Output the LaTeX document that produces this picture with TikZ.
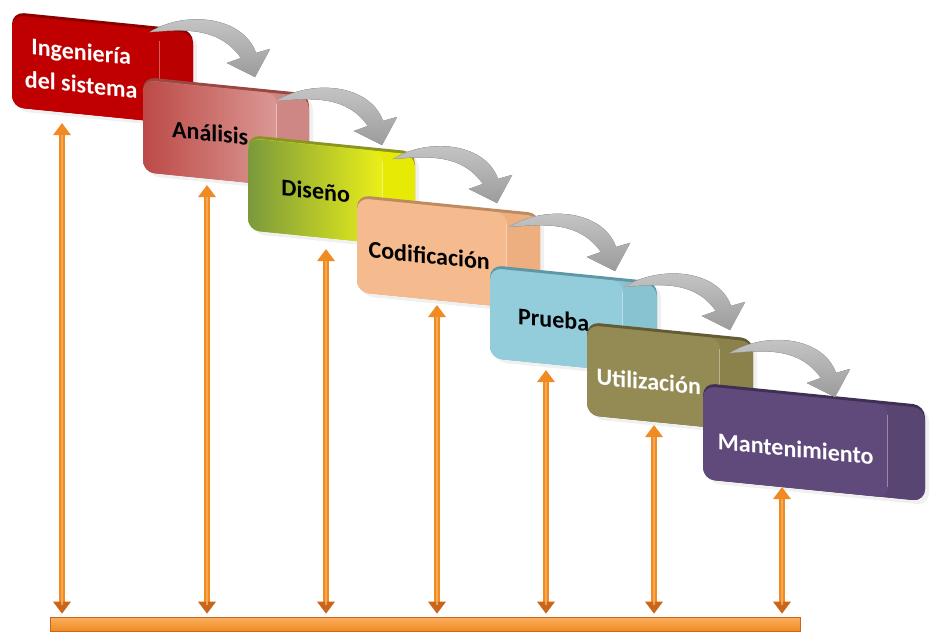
\documentclass[tikz,border=0pt]{standalone}
\usepackage{fontspec}
\setmainfont{Carlito}
\usetikzlibrary{arrows.meta,calc,shadows}

% face / side / top-edge colours of the seven stages
\definecolor{ingface}{HTML}{C00000}\definecolor{ingside}{HTML}{BA0000}\definecolor{ingdark}{HTML}{8A0000}
\definecolor{anaL}{HTML}{BC4A47}\definecolor{anaR}{HTML}{DB9894}\definecolor{anaside}{HTML}{CF8784}\definecolor{anadark}{HTML}{9A4744}
\definecolor{disL}{HTML}{7A993B}\definecolor{disR}{HTML}{EBF019}\definecolor{disside}{HTML}{E6EA05}\definecolor{disdark}{HTML}{8A9424}
\definecolor{codface}{HTML}{F5BB8E}\definecolor{codside}{HTML}{EDAF80}\definecolor{coddark}{HTML}{BE8A60}
\definecolor{prbface}{HTML}{93CDDC}\definecolor{prbside}{HTML}{88C3D2}\definecolor{prbdark}{HTML}{5F96A3}
\definecolor{utiface}{HTML}{948A54}\definecolor{utiside}{HTML}{8B814B}\definecolor{utidark}{HTML}{625B34}
\definecolor{manface}{HTML}{604A7B}\definecolor{manside}{HTML}{584572}\definecolor{mandark}{HTML}{3E3054}
\definecolor{orMain}{HTML}{F08A22}\definecolor{orLight}{HTML}{FAB060}\definecolor{orDark}{HTML}{C9661C}

\tikzset{
  front/.style={rectangle, rounded corners=11pt, inner sep=0pt, align=center,
    font=\fontsize{24}{33}\selectfont\bfseries, transform shape, anchor=north west},
  ingstyle/.style={fill=ingface, text=white},
  anastyle/.style={left color=anaL, right color=anaR, text=black},
  disstyle/.style={left color=disL, right color=disR, text=black},
  codstyle/.style={fill=codface, text=black},
  prbstyle/.style={fill=prbface, text=black},
  utistyle/.style={fill=utiface, text=white},
  manstyle/.style={fill=manface, text=white},
  flowshade/.style={top color=gray!42, bottom color=gray!78, draw=gray!62, line width=.4pt},
  riser/.style={line width=6.5pt, draw=orMain,
    {Triangle[width=17pt,length=12pt,color=orMain]}-{Triangle[width=17pt,length=12pt,color=orDark]}},
  riserlight/.style={line width=2pt, draw=orLight, opacity=.8, shorten <=12pt, shorten >=12pt},
}

% lower a label inside its face without changing the face
\newcommand\lowered[2]{\raisebox{-#1}[\height][\depth]{#2}}

% \stagebox{name}{x}{y}{front width}{height}{side width}{colour prefix}{label}
\newcommand\stagebox[8]{%
  \begin{scope}[shift={(#2,#3)}, yslant=-0.1]
    \fill[#7dark, rounded corners=12pt,
      drop shadow={shadow xshift=4pt, shadow yshift=-4pt, opacity=.12}]
      (0,0) rectangle (#4+#6,#5);
    \fill[#7side, rounded corners=12pt] (0,3) rectangle (#4+#6,#5);
    \node[front, #7style, minimum width=#4pt, minimum height=#5pt-3pt] (#1) at (0,3) {#8};
    \draw[white, opacity=.35, line width=1pt] (#4-1,14) -- (#4-1,#5-10);
  \end{scope}}

% curved grey hand-over arrow from tail coordinate to tip coordinate
\newcommand\handover[2]{%
  \filldraw[flowshade] (#1) to[out=32,in=110,looseness=.95] ($(#2)+(1,-24)$)
    -- ($(#2)+(15,-28)$) -- (#2) -- ($(#2)+(-28,-14)$) -- ($(#2)+(-14,-19)$)
    to[out=125,in=5] (#1) -- cycle;}

\begin{document}
\begin{tikzpicture}[x=1pt,y=-1pt]
\useasboundingbox (0,0) rectangle (942,634);

% stages
\stagebox{b1}{12}{12}{148}{95}{33}{ing}{Ingeniería\kern10pt\\del sistema\kern10pt}
\stagebox{b2}{143}{77}{134}{95}{32}{ana}{Análisis}
\stagebox{b3}{248}{135}{135}{95}{32}{dis}{Diseño}
\stagebox{b4}{357}{195}{150}{97}{33}{cod}{\lowered{3pt}{Codificación}\kern6pt}
\stagebox{b5}{490}{265}{133}{93}{34}{prb}{Prueba\kern6pt}
\stagebox{b6}{587}{322}{133}{93}{33}{uti}{\lowered{5pt}{Utilización}\kern10pt}
\stagebox{b7}{703}{383}{185}{96}{37}{man}{\lowered{7pt}{Mantenimiento}}

% hand-over arrows between consecutive stages
\coordinate (s1) at (150,32);  \coordinate (e1) at (255,77);
\coordinate (s2) at (276,101); \coordinate (e2) at (382,145);
\coordinate (s3) at (393,159); \coordinate (e3) at (497,203);
\coordinate (s4) at (509,227); \coordinate (e4) at (615,271);
\coordinate (s5) at (624,287); \coordinate (e5) at (730,330);
\coordinate (s6) at (730,353); \coordinate (e6) at (835,397);
\foreach \i in {1,...,6}{\handover{s\i}{e\i}}

% common base bar
\node[rectangle, minimum width=750pt, minimum height=14pt, inner sep=0pt,
  top color=orLight, bottom color=orMain, draw=orDark, line width=.6pt]
  (base) at (425,624) {};

% vertical links from each stage down to the base bar
\coordinate (t1) at (62,123);
\coordinate (t2) at (207,185);
\coordinate (t3) at (326,249);
\coordinate (t4) at (437,305);
\coordinate (t5) at (546,370);
\coordinate (t6) at (654,425);
\coordinate (t7) at (782,487);
\foreach \i in {1,...,7}{
  \draw[riser, shorten >=3pt] (t\i) -- (t\i |- base.north);
  \draw[riserlight] (t\i) -- (t\i |- base.north);
}
\end{tikzpicture}
\end{document}
